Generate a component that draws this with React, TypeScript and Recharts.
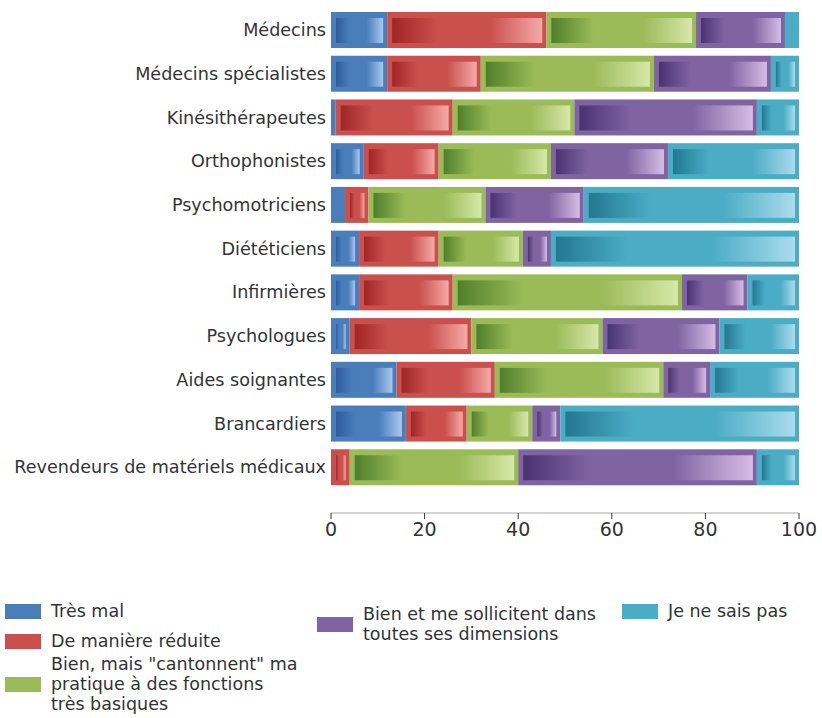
import React from 'react'
import { BarChart, Bar, XAxis, YAxis } from 'recharts'

const CATEGORIES = [
  'Médecins',
  'Médecins spécialistes',
  'Kinésithérapeutes',
  'Orthophonistes',
  'Psychomotriciens',
  'Diététiciens',
  'Infirmières',
  'Psychologues',
  'Aides soignantes',
  'Brancardiers',
  'Revendeurs de matériels médicaux',
]

const TRES_MAL = [12, 12, 1, 7, 3, 6, 6, 4, 14, 16, 0]
const REDUITE = [34, 20, 25, 16, 5, 17, 20, 26, 21, 13, 4]
const BASIQUE = [32, 37, 26, 24, 25, 18, 49, 28, 36, 14, 36]
const SOLLICITENT = [19, 25, 39, 25, 21, 6, 14, 25, 10, 6, 51]
const NE_SAIS_PAS = [3, 6, 9, 28, 46, 53, 11, 17, 19, 51, 9]

const X_TICKS = [0, 20, 40, 60, 80, 100]

const SERIES = [
  { key: 'tresMal', lines: ['Très mal'], base: '#4a7ebb', dark: '#2d5c9c', light: '#a9c8f0' },
  { key: 'reduite', lines: ['De manière réduite'], base: '#c9504d', dark: '#a02626', light: '#f5aaa6' },
  { key: 'basique', lines: ['Bien, mais "cantonnent" ma', 'pratique à des fonctions', 'très basiques'], base: '#9bbb59', dark: '#4f7f2a', light: '#d6e8a8' },
  { key: 'sollicitent', lines: ['Bien et me sollicitent dans', 'toutes ses dimensions'], base: '#8064a2', dark: '#4a3372', light: '#d7bce6' },
  { key: 'neSaisPas', lines: ['Je ne sais pas'], base: '#4bacc6', dark: '#22788f', light: '#aadcec' },
]

const data = CATEGORIES.map((name, i) => ({
  name,
  tresMal: TRES_MAL[i],
  reduite: REDUITE[i],
  basique: BASIQUE[i],
  sollicitent: SOLLICITENT[i],
  neSaisPas: NE_SAIS_PAS[i],
}))

const FONT = '"DejaVu Sans", sans-serif'

// segment = solid outer block + inset rectangle with a left-to-right gradient
const makeShape = (s: (typeof SERIES)[number]) => (props: any) => {
  const { x, y, width, height } = props
  if (!width || width <= 0) return <g />
  const padL = 5
  const padR = 4
  const iw = width - padL - padR
  return (
    <g>
      <rect x={x} y={y} width={width} height={height} fill={s.base} />
      {iw > 6 && (
        <rect x={x + padL} y={y + 6} width={iw} height={height - 11} fill={`url(#grad-${s.key})`} />
      )}
    </g>
  )
}

function Legend() {
  const sw = (c: string) => <div style={{ width: 36, height: 15, background: c, flexShrink: 0 }} />
  const item = (s: (typeof SERIES)[number], extra: React.CSSProperties = {}) => (
    <div key={s.key} style={{ display: 'flex', alignItems: 'center', ...extra }}>
      {sw(s.base)}
      <div style={{ marginLeft: 10, lineHeight: '20px' }}>
        {s.lines.map((l) => (
          <div key={l} style={{ whiteSpace: 'nowrap' }}>{l}</div>
        ))}
      </div>
    </div>
  )
  return (
    <div style={{ position: 'absolute', left: 5, top: 601, fontFamily: FONT, fontSize: 17.5, color: '#333', display: 'flex' }}>
      <div style={{ width: 312 }}>
        {item(SERIES[0])}
        {item(SERIES[1], { marginTop: 10 })}
        {item(SERIES[2], { marginTop: 3 })}
      </div>
      <div style={{ width: 305, marginTop: 3 }}>{item(SERIES[3])}</div>
      <div>{item(SERIES[4])}</div>
    </div>
  )
}

export default function App() {
  return (
    <div style={{ position: 'absolute', left: 0, top: 0, width: 822, height: 718, background: '#fff' }}>
      <BarChart
        width={822}
        height={560}
        data={data}
        layout="vertical"
        margin={{ top: 8, right: 23, left: 0, bottom: 0 }}
        barSize={36}
      >
        <defs>
          {SERIES.map((s) => (
            <linearGradient key={s.key} id={`grad-${s.key}`} x1="0" y1="0" x2="1" y2="0">
              <stop offset="0%" stopColor={s.dark} />
              <stop offset="30%" stopColor={s.base} />
              <stop offset="65%" stopColor={s.base} />
              <stop offset="100%" stopColor={s.light} />
            </linearGradient>
          ))}
        </defs>
        <XAxis
          type="number"
          domain={[0, 100]}
          ticks={X_TICKS}
          height={47}
          tickSize={6}
          tickMargin={4}
          axisLine={{ stroke: '#aaa' }}
          tickLine={{ stroke: '#333' }}
          tick={{ fontSize: 19, fill: '#333', fontFamily: FONT }}
        />
        <YAxis
          type="category"
          dataKey="name"
          width={331}
          padding={{ top: 0, bottom: 24 }}
          axisLine={false}
          tickLine={false}
          tickSize={0}
          tickMargin={5}
          interval={0}
          tick={{ fontSize: 17.6, fill: '#333', fontFamily: FONT }}
        />
        {SERIES.map((s) => (
          <Bar key={s.key} dataKey={s.key} stackId="a" fill={s.base} shape={makeShape(s)} isAnimationActive={false} />
        ))}
      </BarChart>
      <Legend />
    </div>
  )
}
